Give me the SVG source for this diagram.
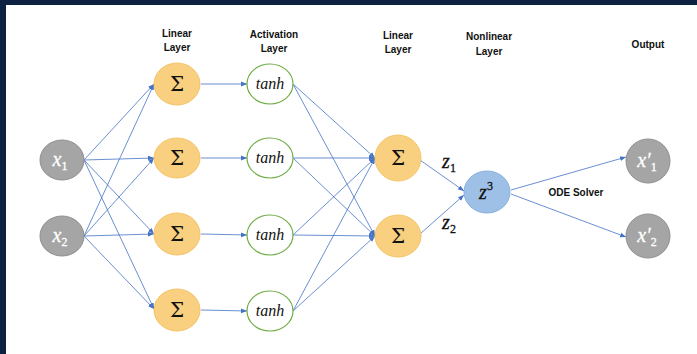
<svg xmlns="http://www.w3.org/2000/svg" width="697" height="354" viewBox="0 0 697 354">
<defs>
<marker id="ah" viewBox="0 0 10 10" refX="10" refY="5" markerWidth="6" markerHeight="6" markerUnits="userSpaceOnUse" orient="auto">
<path d="M0,1 L10,5 L0,9 Z" fill="#4472c4"/>
</marker>
<style>
.lbl{font-family:"Liberation Sans",Arial,sans-serif;font-weight:bold;font-size:10px;fill:#111;text-anchor:middle}
.edge{stroke:#4472c4;stroke-width:0.8;fill:none;marker-end:url(#ah)}
.grey{fill:#a5a5a5;stroke:#8f8f8f;stroke-width:1}
.sum{fill:#f9cf80;stroke:#f5c46a;stroke-width:1}
.act{fill:#fff;stroke:#70ad47;stroke-width:1.2}
.blue{fill:#9fc0e6;stroke:#86aee0;stroke-width:1}
.math{font-family:"Liberation Serif","Times New Roman",serif;font-style:italic;text-anchor:middle;stroke-width:0.3}
.sub{font-style:normal;font-size:12px}
.sig{font-family:"DejaVu Serif","Liberation Serif",serif;font-size:20px;fill:#111;text-anchor:middle}
</style>
</defs>
<rect x="0" y="0" width="697" height="354" fill="#ffffff"/>
<rect x="0" y="0" width="697" height="5" fill="#0d2240"/>
<rect x="0" y="0" width="6" height="354" fill="#0d2240"/>

<g id="labels">
<text class="lbl" x="177" y="37">Linear</text>
<text class="lbl" x="177" y="51">Layer</text>
<text class="lbl" x="274" y="38">Activation</text>
<text class="lbl" x="274" y="52">Layer</text>
<text class="lbl" x="398" y="39">Linear</text>
<text class="lbl" x="398" y="53">Layer</text>
<text class="lbl" x="489" y="40">Nonlinear</text>
<text class="lbl" x="489" y="55">Layer</text>
<text class="lbl" x="648" y="48">Output</text>
<text class="lbl" x="576" y="196">ODE Solver</text>
<text class="math" x="449" y="168" font-size="20" fill="#111" stroke="#111">z<tspan class="sub" dy="4">1</tspan></text>
<text class="math" x="449" y="229" font-size="20" fill="#111" stroke="#111">z<tspan class="sub" dy="4">2</tspan></text>
</g>

<g id="connectors">
<line class="edge" x1="84" y1="160" x2="154" y2="84"/>
<line class="edge" x1="84" y1="160" x2="154" y2="158"/>
<line class="edge" x1="84" y1="160" x2="154" y2="234"/>
<line class="edge" x1="84" y1="160" x2="154" y2="309"/>
<line class="edge" x1="84" y1="236" x2="154" y2="84"/>
<line class="edge" x1="84" y1="236" x2="154" y2="158"/>
<line class="edge" x1="84" y1="236" x2="154" y2="234"/>
<line class="edge" x1="84" y1="236" x2="154" y2="309"/>
<line class="edge" x1="201" y1="84" x2="247" y2="84"/>
<line class="edge" x1="201" y1="158" x2="247" y2="158"/>
<line class="edge" x1="201" y1="234" x2="247" y2="235"/>
<line class="edge" x1="201" y1="310" x2="247" y2="311"/>
<line class="edge" x1="293" y1="84" x2="375" y2="158"/>
<line class="edge" x1="293" y1="84" x2="375" y2="236"/>
<line class="edge" x1="293" y1="158" x2="375" y2="158"/>
<line class="edge" x1="293" y1="158" x2="375" y2="236"/>
<line class="edge" x1="293" y1="235" x2="375" y2="158"/>
<line class="edge" x1="293" y1="235" x2="375" y2="236"/>
<line class="edge" x1="293" y1="311" x2="375" y2="158"/>
<line class="edge" x1="293" y1="311" x2="375" y2="236"/>
<line class="edge" x1="420" y1="160" x2="464" y2="191"/>
<line class="edge" x1="420" y1="234" x2="464" y2="195"/>
<line class="edge" x1="511" y1="190" x2="626" y2="157"/>
<line class="edge" x1="511" y1="194" x2="626" y2="237"/>
</g>

<g id="x1"><ellipse class="grey" cx="62" cy="160" rx="22" ry="20"/><text class="math" x="60" y="166" font-size="20" fill="#fff" stroke="#fff">x<tspan class="sub" dy="4">1</tspan></text></g>
<g id="x2"><ellipse class="grey" cx="62" cy="236" rx="22" ry="20"/><text class="math" x="60" y="242" font-size="20" fill="#fff" stroke="#fff">x<tspan class="sub" dy="4">2</tspan></text></g>

<g id="s1"><ellipse class="sum" cx="177" cy="84" rx="23" ry="21"/><text class="sig" x="177" y="91">Σ</text></g>
<g id="s2"><ellipse class="sum" cx="177" cy="158" rx="23" ry="20"/><text class="sig" x="177" y="165">Σ</text></g>
<g id="s3"><ellipse class="sum" cx="177" cy="234" rx="23" ry="21"/><text class="sig" x="177" y="241">Σ</text></g>
<g id="s4"><ellipse class="sum" cx="177" cy="310" rx="23" ry="21"/><text class="sig" x="177" y="317">Σ</text></g>

<g id="t1"><ellipse class="act" cx="270" cy="84" rx="23" ry="20"/><text class="math" x="270" y="89" font-size="16" fill="#111">tanh</text></g>
<g id="t2"><ellipse class="act" cx="270" cy="158" rx="23" ry="20"/><text class="math" x="270" y="163" font-size="16" fill="#111">tanh</text></g>
<g id="t3"><ellipse class="act" cx="270" cy="235" rx="23" ry="20"/><text class="math" x="270" y="240" font-size="16" fill="#111">tanh</text></g>
<g id="t4"><ellipse class="act" cx="270" cy="311" rx="23" ry="20"/><text class="math" x="270" y="316" font-size="16" fill="#111">tanh</text></g>

<g id="l1"><ellipse class="sum" cx="398" cy="158" rx="23" ry="23"/><text class="sig" x="398" y="165">Σ</text></g>
<g id="l2"><ellipse class="sum" cx="398" cy="236" rx="23" ry="21"/><text class="sig" x="398" y="243">Σ</text></g>

<g id="z3"><ellipse class="blue" cx="487" cy="192" rx="23" ry="21"/><text class="math" x="486" y="199" font-size="20" fill="#111" stroke="#111">z<tspan class="sub" dy="-9">3</tspan></text></g>

<g id="y1"><ellipse class="grey" cx="648" cy="161" rx="22" ry="22"/><text class="math" x="647" y="167" font-size="20" fill="#fff" stroke="#fff">x′<tspan class="sub" dy="4">1</tspan></text></g>
<g id="y2"><ellipse class="grey" cx="648" cy="236" rx="22" ry="22"/><text class="math" x="647" y="242" font-size="20" fill="#fff" stroke="#fff">x′<tspan class="sub" dy="4">2</tspan></text></g>
</svg>
